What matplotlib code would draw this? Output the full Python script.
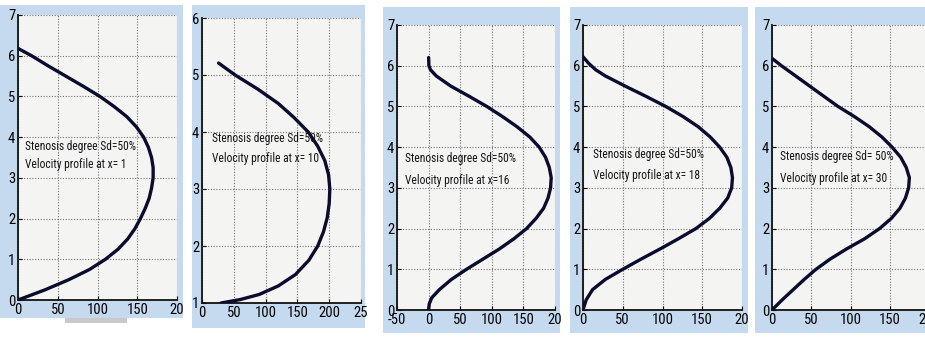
import matplotlib
matplotlib.use("Agg")
import matplotlib.pyplot as plt
from matplotlib.patches import Rectangle

W, H = 925, 345
FRAME = "#c6daef"
PLOTBG = "#f4f4f3"
CURVE = "#0b0b2e"
FONT = ["Roboto Condensed", "Liberation Sans Narrow", "DejaVu Sans"]

# velocity profiles u(r) for stenosis degree 50%, read at several axial stations
stations = ["1", "10", "16", "18", "30"]

u_x1 = [0, 17, 38, 60, 82, 103, 121, 137, 149, 158, 164, 168, 170, 170, 168, 165, 160, 154,
        147, 138, 126, 110, 90, 64, 34, 0]
r_x1 = [6.18, 6.0, 5.75, 5.5, 5.25, 5.0, 4.75, 4.5, 4.25, 4.0, 3.75, 3.5, 3.25, 3.0, 2.75, 2.5,
        2.25, 2.0, 1.75, 1.5, 1.25, 1.0, 0.75, 0.5, 0.25, 0.0]

u_x10 = [26, 52, 88, 120, 145, 167, 182, 193, 199, 201, 200, 197, 191, 182, 168, 147, 120, 90, 60, 30]
r_x10 = [5.21, 5.0, 4.75, 4.5, 4.25, 4.0, 3.75, 3.5, 3.25, 3.0, 2.75, 2.5, 2.25, 2.0, 1.75, 1.5,
         1.3, 1.15, 1.06, 1.0]

u_x16 = [0, 0.5, 3, 12, 35, 64, 92, 117, 140, 160, 175, 185, 191, 194, 193, 189, 182, 170, 155,
         135, 112, 86, 60, 36, 17, 5, 1, 0]
r_x16 = [6.2, 6.0, 5.9, 5.75, 5.5, 5.25, 5.0, 4.75, 4.5, 4.25, 4.0, 3.75, 3.5, 3.25, 3.0, 2.75,
         2.5, 2.25, 2.0, 1.75, 1.5, 1.25, 1.0, 0.75, 0.5, 0.3, 0.15, 0.0]

u_x18 = [0, 7, 16, 28, 53, 79, 104, 126, 145, 160, 172, 181, 186, 188, 187, 182, 172, 159, 142,
         120, 97, 73, 50, 28, 12, 4, 0]
r_x18 = [6.22, 6.06, 5.9, 5.75, 5.5, 5.25, 5.0, 4.75, 4.5, 4.25, 4.0, 3.75, 3.5, 3.25, 3.0, 2.75,
         2.5, 2.25, 2.0, 1.75, 1.5, 1.25, 1.0, 0.75, 0.5, 0.25, 0.0]

u_x30 = [0, 12, 30, 48, 66, 84, 105, 124, 140, 153, 164, 171, 175, 174, 170, 163, 152, 137,
         118, 95, 74, 56, 41, 27, 13, 0]
r_x30 = [6.18, 6.0, 5.75, 5.5, 5.25, 5.0, 4.75, 4.5, 4.25, 4.0, 3.75, 3.5, 3.25, 3.0, 2.75, 2.5,
         2.25, 2.0, 1.75, 1.5, 1.25, 1.0, 0.75, 0.5, 0.25, 0.0]

profiles = [(u_x1, r_x1), (u_x10, r_x10), (u_x16, r_x16), (u_x18, r_x18), (u_x30, r_x30)]

xlims = [(0, 200), (0, 250), (-50, 200), (0, 200), (0, 200)]
ylims = [(0, 7), (1, 6), (0, 7), (0, 7), (0, 7)]
xtick_vals = [[0, 50, 100, 150, 200], [0, 50, 100, 150, 200, 250],
              [-50, 0, 50, 100, 150, 200], [0, 50, 100, 150, 200], [0, 50, 100, 150, 200]]
xtick_text = [["0", "50", "100", "150", "20"], ["0", "50", "100", "150", "200", "25"],
              ["-50", "0", "50", "100", "150", "20"], ["0", "50", "100", "150", "20"],
              ["0", "50", "100", "150", "200"]]
line1 = ["Stenosis degree Sd=50%", "Stenosis degree Sd=50%", "Stenosis degree Sd=50%",
         "Stenosis degree Sd=50%", "Stenosis degree Sd= 50%"]
line2 = ["Velocity profile at x= 1", "Velocity profile at x= 10", "Velocity profile at x=16",
         "Velocity profile at x= 18", "Velocity profile at x= 30"]
label_pos = [(9, 3.76, 3.32), (16, 3.89, 3.54), (-37, 3.73, 3.19), (12, 3.81, 3.31), (10, 3.76, 3.22)]

# pixel boxes: (frame x0, x1, y0, y1), (axes x0, x1, y0, y1), measured from top-left
frames = [(0, 183, 5, 318), (192, 365, 5, 328), (383, 560, 7, 333), (570, 748, 7, 333), (755, 925, 7, 333)]
axboxes = [(18, 177, 15, 300), (202, 361, 18, 303), (397, 555, 25, 310), (583, 742, 25, 310), (772, 929, 25, 310)]


def fbox(x0, x1, y0, y1):
    return [x0 / W, 1 - y1 / H, (x1 - x0) / W, (y1 - y0) / H]


fig = plt.figure(figsize=(W / 100, H / 100), dpi=100)
fig.patch.set_facecolor("white")

for fr in frames:
    l, b, w, h = fbox(*fr)
    fig.patches.append(Rectangle((l, b), w, h, transform=fig.transFigure,
                                 fc=FRAME, ec="none", zorder=-5))
# small grey bar under the first panel
l, b, w, h = fbox(65, 127, 318, 323)
fig.patches.append(Rectangle((l, b), w, h, transform=fig.transFigure, fc="#c9c9cc", ec="none", zorder=-5))

for i, ab in enumerate(axboxes):
    ax = fig.add_axes(fbox(*ab))
    ax.set_zorder(1)
    ax.set_facecolor(PLOTBG)
    u, r = profiles[i]
    ax.plot(u, r, color=CURVE, lw=2.4, solid_capstyle="round", solid_joinstyle="round", zorder=3)
    ax.set_xlim(*xlims[i]); ax.set_ylim(*ylims[i])
    ax.set_xticks(xtick_vals[i])
    ax.set_xticklabels(xtick_text[i])
    ax.set_yticks(range(ylims[i][0], ylims[i][1] + 1))
    ax.grid(True, color="#555555", ls=(0, (1, 1.5)), lw=0.8, alpha=0.8)
    for s in ("top", "right"):
        ax.spines[s].set_visible(False)
    for s in ("left", "bottom"):
        ax.spines[s].set_color("#111111"); ax.spines[s].set_linewidth(1.3)
    ax.tick_params(direction="in", length=3, width=0.8, pad=2, labelsize=10.5)
    for t in ax.get_xticklabels() + ax.get_yticklabels():
        t.set_family(FONT); t.set_fontstretch("condensed")
    tx, ty1, ty2 = label_pos[i]
    ax.text(tx, ty1, line1[i], fontsize=8.3, family=FONT, fontstretch="condensed",
            color="#151515", va="center", ha="left", zorder=4)
    ax.text(tx, ty2, line2[i], fontsize=8.3, family=FONT, fontstretch="condensed",
            color="#151515", va="center", ha="left", zorder=4)

fig.savefig("out.png", dpi=100)
